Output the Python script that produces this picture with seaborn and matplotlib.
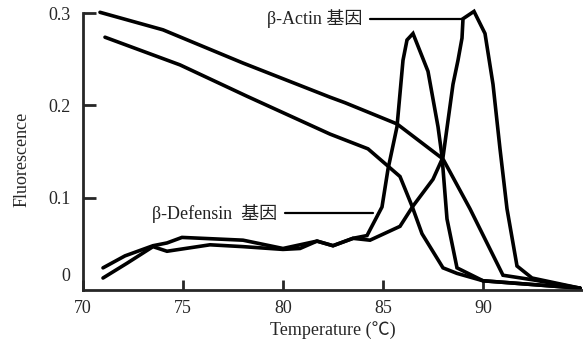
import matplotlib
matplotlib.use("Agg")
import matplotlib.pyplot as plt
import seaborn as sns
import pandas as pd

# melt curves (fluorescence falling with temperature)
actin_melt_t = [70.85, 74.0, 78.0, 82.35, 83.1, 85.7, 88.0, 89.35, 91.0, 92.5, 94.85]
actin_melt_f = [0.301, 0.282, 0.246, 0.209, 0.203, 0.180, 0.142, 0.088, 0.016, 0.011, 0.002]

defensin_melt_t = [71.1, 74.85, 78.2, 82.35, 84.25, 85.85, 86.45, 86.95, 88.0, 88.7, 90.0, 94.85]
defensin_melt_f = [0.274, 0.244, 0.210, 0.169, 0.153, 0.123, 0.091, 0.061, 0.024, 0.018, 0.010, 0.002]

# melt peaks
defensin_peak_t = [71.0, 72.1, 73.5, 74.2, 74.95, 78.0, 80.0, 81.7, 82.5, 83.5, 84.2, 84.95,
                   85.25, 85.7, 86.0, 86.2, 86.5, 87.25, 87.75, 87.95, 88.2, 88.7, 90.0, 94.85]
defensin_peak_f = [0.024, 0.037, 0.048, 0.051, 0.057, 0.054, 0.045, 0.053, 0.048, 0.056, 0.059, 0.090,
                   0.131, 0.177, 0.249, 0.271, 0.278, 0.237, 0.177, 0.145, 0.077, 0.024, 0.010, 0.002]

actin_peak_t = [71.0, 72.2, 73.5, 74.2, 76.35, 78.0, 80.0, 80.85, 81.7, 82.5, 83.5, 84.35, 85.85,
                86.5, 87.5, 88.0, 88.5, 88.75, 88.95, 89.0, 89.55, 90.1, 90.5, 90.85, 91.2,
                91.7, 92.45, 94.85]
actin_peak_f = [0.013, 0.029, 0.047, 0.042, 0.049, 0.047, 0.044, 0.045, 0.053, 0.048, 0.056, 0.054, 0.069,
                0.091, 0.120, 0.144, 0.223, 0.249, 0.273, 0.294, 0.302, 0.278, 0.223, 0.153, 0.088,
                0.026, 0.013, 0.002]

x_ticks = [70, 75, 80, 85, 90]
y_ticks = [0.1, 0.2, 0.3]

sns.set_style("ticks")
plt.rcParams['font.family'] = ['Liberation Serif', 'Noto Sans CJK SC', 'DejaVu Sans']
plt.rcParams['font.size'] = 13

fig = plt.figure(figsize=(5.83, 3.48), dpi=100)
ax = fig.add_axes([83 / 583, 58 / 348, 500 / 583, 286 / 348])

curves = [(actin_melt_t, actin_melt_f), (defensin_melt_t, defensin_melt_f),
          (defensin_peak_t, defensin_peak_f), (actin_peak_t, actin_peak_f)]
for t, f in curves:
    df = pd.DataFrame({'t': t, 'f': f})
    sns.lineplot(data=df, x='t', y='f', ax=ax, color='black', linewidth=2.6,
                 sort=False, estimator=None, solid_joinstyle='miter')

# label leader lines
ax.plot([84.35, 89.0], [0.294, 0.294], color='black', linewidth=1.6)
ax.plot([80.1, 84.5], [0.083, 0.083], color='black', linewidth=1.6)
ax.text(79.2, 0.294, 'β-Actin 基因', va='center', ha='left', fontsize=13, color='#222222')
ax.text(73.45, 0.083, 'β-Defensin  基因', va='center', ha='left', fontsize=13, color='#222222')

ax.set_xlim(70, 95)
ax.set_ylim(0, 0.31)
ax.set_xticks(x_ticks)
ax.set_xticklabels([str(v) for v in x_ticks])
ax.set_yticks(y_ticks)
ax.set_yticklabels(['0.1', '0.2', '0.3'])
ax.set_yticks([0.017], ['0'], minor=True)
ax.tick_params(axis='y', which='minor', length=0, pad=9)
ax.tick_params(axis='x', direction='in', length=7, width=2, pad=7, labelsize=13)
ax.tick_params(axis='y', which='major', direction='in', length=9, width=2, pad=9, labelsize=13)

for s in ['top', 'right']:
    ax.spines[s].set_visible(False)
ax.spines['left'].set_bounds(0, 0.3)
ax.spines['left'].set_linewidth(2)
ax.spines['bottom'].set_linewidth(2)

ax.set_xlabel('Temperature (℃)', fontsize=13)
ax.set_ylabel('Fluorescence', fontsize=13)
ax.xaxis.set_label_coords(0.5, -0.11)
ax.yaxis.set_label_coords(-0.105, 0.455)

fig.savefig('out.png', dpi=100)
